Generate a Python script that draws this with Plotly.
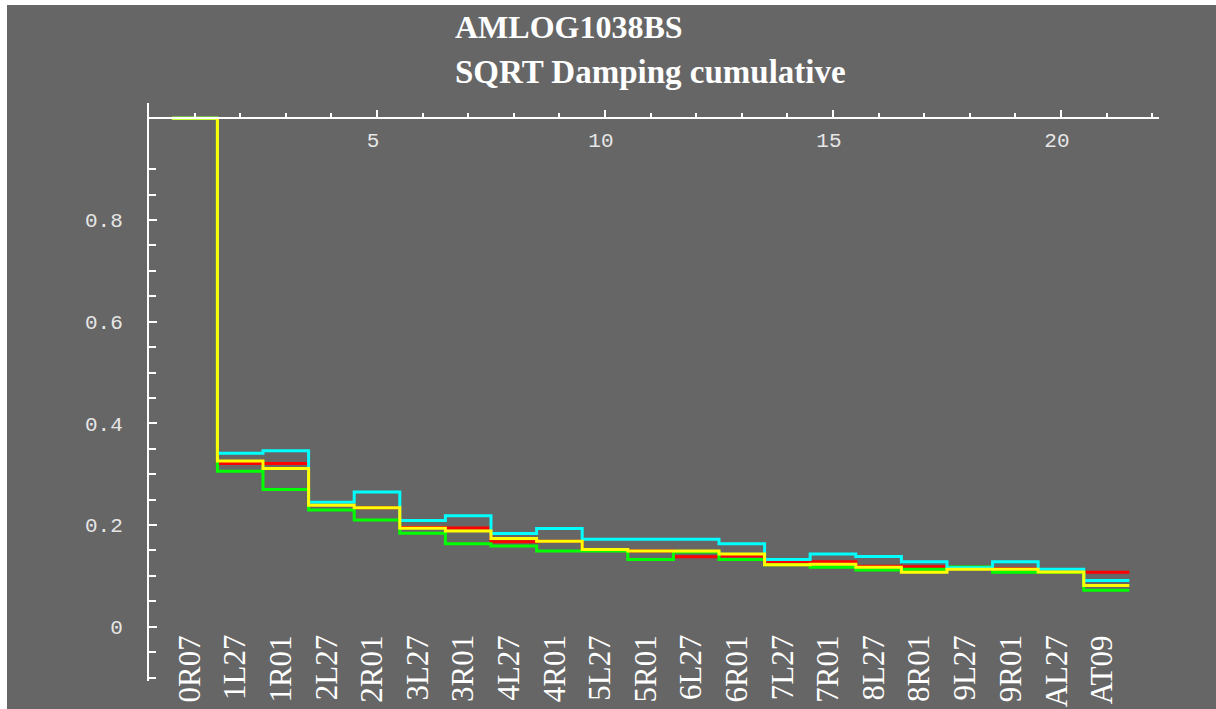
import plotly.graph_objects as go

# Runway / segment identifiers along the sequence
categories = ["0R07", "1L27", "1R01", "2L27", "2R01", "3L27", "3R01", "4L27",
              "4R01", "5L27", "5R01", "6L27", "6R01", "7L27", "7R01", "8L27",
              "8R01", "9L27", "9R01", "AL27", "AT09"]

# Cumulative SQRT damping per segment, one list per run
red_vals = [1.0, 0.321, 0.321, 0.240, 0.234, 0.195, 0.194, 0.167, 0.168, 0.152,
            0.149, 0.1375, 0.139, 0.128, 0.128, 0.119, 0.118, 0.115, 0.114, 0.108, 0.107]
green_vals = [1.0, 0.306, 0.270, 0.2295, 0.210, 0.184, 0.163, 0.1585, 0.1487, 0.1487,
              0.132, 0.147, 0.132, 0.122, 0.1167, 0.1115, 0.113, 0.1175, 0.107, 0.107, 0.0715]
cyan_vals = [1.0, 0.341, 0.346, 0.245, 0.265, 0.209, 0.218, 0.1835, 0.193, 0.172,
             0.172, 0.172, 0.163, 0.132, 0.1428, 0.138, 0.128, 0.116, 0.128, 0.113, 0.091]
yellow_vals = [1.0, 0.326, 0.311, 0.239, 0.234, 0.1935, 0.188, 0.1737, 0.168, 0.152,
               0.1487, 0.1487, 0.143, 0.122, 0.1226, 0.117, 0.107, 0.113, 0.113, 0.1075, 0.081]

series = [("red", red_vals, "#ff0000"), ("green", green_vals, "#00ff00"),
          ("cyan", cyan_vals, "#00ffff"), ("yellow", yellow_vals, "#ffff00")]

x_ticks = [5, 10, 15, 20]
y_ticks = [0, 0.2, 0.4, 0.6, 0.8]
y_ticktext = ["0", "0.2", "0.4", "0.6", "0.8"]

title_lines = ["AMLOG1038BS", "SQRT Damping cumulative"]

BG = "#666666"
W, H = 1216, 709
ML, MR, MT, MB = 149, 57, 103, 28
YMIN, YMAX = -0.1068, 1.0301
XMIN, XMAX = 0.0, 22.15

n = len(categories)
# Each segment occupies [i - 0.5, i + 0.5] with i = 1..n
edges = [i + 0.5 for i in range(n + 1)]

fig = go.Figure()
for name, vals, col in series:
    fig.add_trace(go.Scatter(
        x=edges, y=list(vals) + [vals[-1]],
        mode="lines", line=dict(color=col, width=3, shape="hv"),
        name=name, showlegend=False, hoverinfo="skip",
    ))

# Segment labels under the zero line, rotated
for i, lab in enumerate(categories, start=1):
    fig.add_annotation(
        x=i, y=-0.013, xref="x", yref="y", text=lab, showarrow=False,
        textangle=-90, xanchor="center", yanchor="top", xshift=-5,
        font=dict(family="Liberation Serif", size=31, color="white"),
    )

# Two-line title
pw = W - ML - MR
ph = H - MT - MB
fig.add_annotation(x=(453 - ML) / pw, y=(H - MB - 27) / ph, xref="paper", yref="paper",
                   text="<b>%s</b>" % title_lines[0], showarrow=False,
                   xanchor="left", yanchor="middle",
                   font=dict(family="Liberation Serif", size=32, color="white"))
fig.add_annotation(x=(453 - ML) / pw, y=(H - MB - 72) / ph, xref="paper", yref="paper",
                   text="<b>%s</b>" % title_lines[1], showarrow=False,
                   xanchor="left", yanchor="middle",
                   font=dict(family="Liberation Serif", size=33, color="white"))

# Thin white frame on the top and left edges of the page
fig.add_shape(type="rect", xref="paper", yref="paper",
              x0=-ML / pw, x1=(7 - ML) / pw, y0=-MB / ph, y1=(H - MB) / ph,
              fillcolor="white", line=dict(width=0))
fig.add_shape(type="rect", xref="paper", yref="paper",
              x0=-ML / pw, x1=(W - ML) / pw, y0=(H - MB - 5) / ph, y1=(H - MB) / ph,
              fillcolor="white", line=dict(width=0))

tick_font = dict(family="Liberation Mono", size=21, color="#e6e6e6")

fig.update_layout(
    width=W, height=H,
    margin=dict(l=ML, r=MR, t=MT, b=MB, pad=0),
    paper_bgcolor=BG, plot_bgcolor=BG,
    template="none",
    showlegend=False,
    xaxis=dict(
        range=[XMIN, XMAX], anchor="free",
        position=(1.0 - YMIN) / (YMAX - YMIN),
        side="top", showline=True, linecolor="white", linewidth=2,
        showgrid=False, zeroline=False,
        tickmode="array", tickvals=x_ticks, ticktext=[str(v) for v in x_ticks],
        ticks="outside", ticklen=7, tickwidth=2, tickcolor="white",
        ticklabelposition="inside", ticklabelstandoff=14, ticklabelshift=-4,
        tickfont=tick_font,
        minor=dict(tickmode="array", tickvals=list(range(1, 23)),
                   ticks="outside", ticklen=4, tickwidth=2, tickcolor="white"),
        automargin=False,
    ),
    yaxis=dict(
        range=[YMIN, YMAX], showline=True, linecolor="white", linewidth=2,
        showgrid=False, zeroline=False,
        tickmode="array", tickvals=y_ticks, ticktext=y_ticktext,
        ticks="inside", ticklen=8, tickwidth=2, tickcolor="white",
        ticklabelstandoff=20, tickfont=tick_font,
        minor=dict(tickmode="array",
                   tickvals=[round(-0.1 + 0.05 * k, 2) for k in range(23)],
                   ticks="inside", ticklen=7, tickwidth=2, tickcolor="white"),
        automargin=False,
    ),
)

fig.write_html("out.html")
